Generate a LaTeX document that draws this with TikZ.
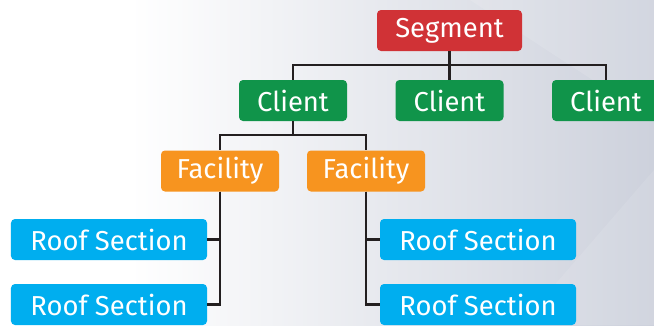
\documentclass[tikz,border=0pt]{standalone}
\usepackage{fontspec}
\setmainfont{Fira Sans}
\usepackage{tikz}
\usetikzlibrary{positioning,calc}
\definecolor{segred}{HTML}{D03236}
\definecolor{clientgreen}{HTML}{10944A}
\definecolor{facorange}{HTML}{F7941F}
\definecolor{roofblue}{HTML}{00AEEF}
\definecolor{linedark}{HTML}{231F20}
\definecolor{bgright}{HTML}{CDD1DC}
\tikzset{
	box/.style={rounded corners=4bp,text=white,inner sep=0pt,minimum height=41bp,font=\fontsize{27.5}{27.5}\selectfont},
	segbox/.style={box,fill=segred,minimum width=145bp},
	clientbox/.style={box,fill=clientgreen,minimum width=108bp},
	facbox/.style={box,fill=facorange,minimum width=118bp},
	roofbox/.style={box,fill=roofblue,minimum width=196bp},
	link/.style={draw=linedark,line width=2.2bp}
}
\newcommand{\drawbackground}{
	\fill[white] (0,0) rectangle (130,325);
	\shade[left color=white,right color=bgright] (130,0) rectangle (654,325);
	\fill[white,opacity=0.12] (470,0) -- (654,0) -- (654,120) -- cycle;
	\fill[white,opacity=0.1] (520,325) -- (654,170) -- (654,325) -- cycle;
}
\begin{document}
\begin{tikzpicture}[x=1bp,y=-1bp]
	\begin{scope}
		\drawbackground
		\clip (0,0) rectangle (654,325);
		
		\node[segbox] (seg) at (449.5,30.5) {Segment};
		\node[clientbox] (cl1) at (293,100.5) {Client};
		\node[clientbox] (cl2) at (449.5,100.5) {Client};
		\node[clientbox] (cl3) at (606,100.5) {Client};
		\node[facbox] (fac1) at (220,171) {Facility};
		\node[facbox] (fac2) at (366,171) {Facility};
		\node[roofbox] (roof1) at (109,239.5) {Roof Section};
		\node[roofbox] (roof2) at (109,304.5) {Roof Section};
		\node[roofbox] (roof3) at (478,239.5) {Roof Section};
		\node[roofbox] (roof4) at (478,304.5) {Roof Section};
		
		\draw[link] (seg.south) -- (cl2.north);
		\draw[link] (seg.south) |- ++(0,14) -| (cl1.north);
		\draw[link] (seg.south) |- ++(0,14) -| (cl3.north);
		\draw[link] (cl1.south) |- ++(0,14) -| (fac1.north);
		\draw[link] (cl1.south) |- ++(0,14) -| (fac2.north);
		\draw[link] (fac1.south) |- (roof1.east);
		\draw[link] (fac1.south) |- (roof2.east);
		\draw[link] (fac2.south) |- (roof3.west);
		\draw[link] (fac2.south) |- (roof4.west);
	\end{scope}
\end{tikzpicture}
\end{document}
